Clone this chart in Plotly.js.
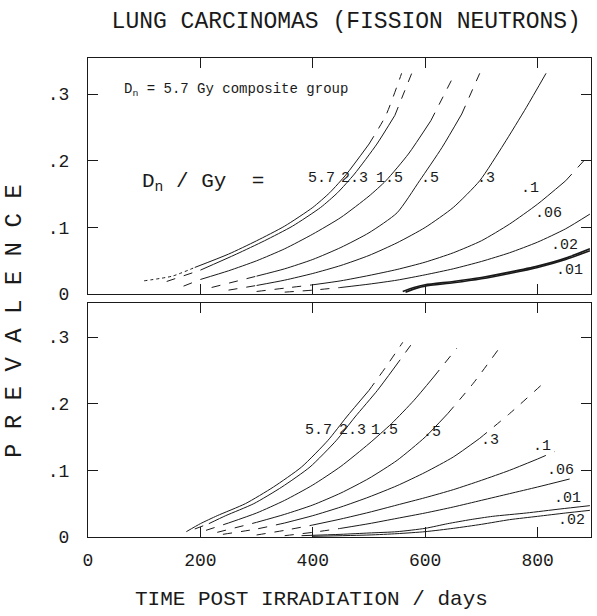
<!DOCTYPE html>
<html>
<head>
<meta charset="utf-8">
<script src="https://cdn.plot.ly/plotly-3.0.1.min.js"></script>
<style>html,body{margin:0;padding:0;background:#fff;}#chart{width:597px;height:616px;}</style>
</head>
<body>
<div id="chart"></div>
<script>
// ---- data: [days, prevalence] ----
const doses = ["5.7", "2.3", "1.5", ".5", ".3", ".1", ".06", ".02", ".01"];

// Upper panel (Dn = 5.7 Gy composite group)
const up57 = [[100,0.02],[150,0.027],[190,0.04],[250,0.06],[300,0.08],[350,0.102],[400,0.13],[430,0.152],[460,0.18],[500,0.225],[530,0.268],[558,0.331]];
const up23 = [[140,0.019],[200,0.036],[264,0.06],[314,0.08],[364,0.102],[414,0.13],[444,0.152],[474,0.18],[514,0.225],[546,0.268],[576,0.331]];
const up15 = [[170,0.012],[200,0.022],[250,0.035],[300,0.05],[350,0.068],[400,0.09],[450,0.115],[500,0.147],[530,0.17],[570,0.21],[610,0.26],[653,0.331]];
const up05 = [[220,0.01],[300,0.027],[350,0.038],[400,0.052],[450,0.07],[500,0.092],[550,0.122],[590,0.17],[630,0.22],[665,0.27],[697,0.331]];
const up03 = [[250,0.006],[300,0.013],[350,0.021],[400,0.031],[450,0.043],[500,0.058],[550,0.077],[600,0.1],[650,0.13],[697,0.17],[740,0.225],[780,0.28],[815,0.331]];
const up01 = [[300,0.004],[350,0.009],[400,0.014],[450,0.02],[500,0.028],[550,0.037],[600,0.048],[650,0.062],[700,0.08],[750,0.105],[800,0.135],[850,0.17],[893,0.21]];
const up006 = [[350,0.003],[400,0.006],[450,0.01],[500,0.015],[550,0.021],[600,0.029],[650,0.038],[700,0.049],[750,0.062],[800,0.078],[850,0.098],[893,0.12]];
const up002 = [[560,0.004],[580,0.01],[600,0.014],[650,0.019],[700,0.025],[750,0.033],[800,0.042],[850,0.054],[893,0.068]];
const up001 = [[565,0.003],[585,0.009],[600,0.012],[650,0.017],[700,0.023],[750,0.031],[800,0.04],[850,0.052],[893,0.065]];

// Lower panel
const lo57 = [[175,0.008],[200,0.02],[230,0.032],[280,0.05],[330,0.075],[380,0.105],[427,0.145],[460,0.18],[500,0.22],[530,0.255],[560,0.292]];
const lo23 = [[190,0.012],[215,0.02],[245,0.032],[295,0.05],[345,0.075],[395,0.105],[442,0.145],[475,0.18],[515,0.22],[546,0.255],[578,0.292]];
const lo15 = [[210,0.01],[250,0.021],[300,0.036],[350,0.055],[400,0.078],[450,0.106],[500,0.14],[540,0.17],[580,0.205],[615,0.24],[656,0.283]];
const lo05 = [[230,0.007],[300,0.022],[350,0.034],[400,0.048],[450,0.066],[500,0.088],[550,0.115],[600,0.15],[640,0.185],[685,0.23],[729,0.28]];
const lo03 = [[240,0.004],[300,0.012],[350,0.021],[400,0.032],[450,0.045],[500,0.06],[550,0.077],[600,0.097],[650,0.12],[697,0.148],[750,0.185],[816,0.235]];
const lo01 = [[300,0.003],[350,0.01],[400,0.018],[450,0.027],[500,0.037],[550,0.048],[600,0.059],[650,0.071],[700,0.085],[750,0.1],[800,0.117],[830,0.128]];
const lo006 = [[350,0.002],[400,0.007],[450,0.013],[500,0.02],[550,0.028],[600,0.036],[650,0.045],[700,0.055],[750,0.065],[800,0.075],[857,0.087]];
const lo002 = [[400,0.001],[500,0.003],[550,0.005],[600,0.008],[650,0.013],[700,0.019],[750,0.026],[800,0.031],[850,0.036],[893,0.04]];
const lo001 = [[380,0.002],[450,0.004],[500,0.006],[550,0.008],[600,0.013],[640,0.02],[680,0.026],[720,0.031],[780,0.036],[840,0.042],[893,0.047]];

const xTicks = [0, 200, 400, 600, 800];
const yTicks = [0, 0.1, 0.2, 0.3];
const yTickText = ["0", ".1", ".2", ".3"];

const titleText = "LUNG CARCINOMAS (FISSION NEUTRONS)";
const xTitle = "TIME POST IRRADIATION / days";
const yTitle = "P R E V A L E N C E";

// ---- drawing ----
const FONT = "Liberation Mono, DejaVu Sans Mono, monospace";
const INK = "#1a1a1a";
const traces = [];

function addCurve(pts, yax, pre, post, preDash, postDash, w) {
  const seg = (f) => pts.filter(f);
  const parts = [
    [seg(p => p[0] <= pre), preDash],
    [seg(p => p[0] >= pre && p[0] <= post), "solid"],
    [seg(p => p[0] >= post), postDash]
  ];
  parts.forEach(([s, d]) => {
    if (s.length < 2) return;
    traces.push({
      x: s.map(p => p[0]), y: s.map(p => p[1]),
      xaxis: yax === "y" ? "x2" : "x", yaxis: yax,
      mode: "lines", line: {color: INK, width: w || 1, dash: d, shape: "spline", smoothing: 0.6},
      hoverinfo: "skip", showlegend: false
    });
  });
}

addCurve(up57, "y", 190, 500, "dot", "dash");
addCurve(up23, "y", 200, 546, "dash", "dash");
addCurve(up15, "y", 200, 610, "dash", "dash");
addCurve(up05, "y", 300, 665, "dash", "dash");
addCurve(up03, "y", 300, 9999, "dash", "dash");
addCurve(up01, "y", 400, 850, "dash", "dash");
addCurve(up006, "y", 450, 9999, "dash", "dash");
addCurve(up002, "y", 0, 9999, "dash", "dash", 1.6);
addCurve(up001, "y", 0, 9999, "dash", "dash", 1.6);

addCurve(lo57, "y2", 175, 500, "dash", "dash");
addCurve(lo23, "y2", 215, 546, "dash", "dash");
addCurve(lo15, "y2", 250, 615, "dash", "dash");
addCurve(lo05, "y2", 300, 640, "dash", "dash");
addCurve(lo03, "y2", 350, 697, "dash", "dash");
addCurve(lo01, "y2", 400, 800, "dash", "dash");
addCurve(lo006, "y2", 450, 9999, "dash", "dash");
addCurve(lo002, "y2", 0, 9999, "dash", "dash");
addCurve(lo001, "y2", 0, 9999, "dash", "dash");

const ann = [];
function lab(text, x, y, yref, size, anchor) {
  ann.push({text: text, x: x, y: y, xref: yref === "y" ? "x2" : "x", yref: yref,
    showarrow: false, xanchor: anchor || "center", yanchor: "middle",
    font: {family: FONT, size: size || 13, color: INK}});
}
// upper panel labels
lab("D<sub>n</sub> = 5.7 Gy composite group", 60, 0.306, "y", 14, "left");
lab("D<sub>n</sub> / Gy  =", 92, 0.168, "y", 21, "left");
const upLab = [[416, 0.174], [474, 0.174], [537, 0.174], [608, 0.174], [709, 0.174], [786, 0.159], [820, 0.121], [848, 0.073], [857, 0.036]];
doses.forEach((d, i) => lab(d, upLab[i][0], upLab[i][1], "y", 15));
// lower panel labels
const loLab = [[411, 0.160], [470, 0.160], [528, 0.160], [612, 0.157], [715, 0.145], [807, 0.135], [841, 0.100], [860, 0.025], [853, 0.058]];
doses.forEach((d, i) => lab(d, loLab[i][0], loLab[i][1], "y2", 15));

// axis titles
ann.push({text: xTitle, xref: "paper", yref: "paper", x: 0.445, y: -0.131, showarrow: false,
  xanchor: "center", yanchor: "middle", font: {family: FONT, size: 21, color: INK}});
ann.push({text: yTitle, xref: "paper", yref: "paper", x: -0.145, y: 0.451, showarrow: false,
  xanchor: "center", yanchor: "middle", textangle: -90, font: {family: FONT, size: 24, color: INK}});

const axCommon = {showline: true, linecolor: INK, linewidth: 1, mirror: "ticks", ticks: "inside",
  ticklen: 10, tickcolor: INK, tickwidth: 1, showgrid: false, zeroline: false,
  tickfont: {family: FONT, size: 18, color: INK}};

const layout = {
  width: 597, height: 616,
  margin: {l: 88, r: 6, t: 58, b: 79},
  paper_bgcolor: "#fff", plot_bgcolor: "#fff",
  title: {text: titleText, xref: "container", yref: "container", x: 0.58, y: 0.967,
    xanchor: "center", yanchor: "middle", font: {family: FONT, size: 23, color: INK}},
  xaxis: Object.assign({}, axCommon, {anchor: "y2", domain: [0, 1], range: [0, 895],
    tickvals: xTicks, ticktext: xTicks.map(String), ticklabelstandoff: 6}),
  xaxis2: Object.assign({}, axCommon, {anchor: "y", domain: [0, 1], range: [0, 895], matches: "x",
    tickvals: xTicks, showticklabels: false}),
  yaxis: Object.assign({}, axCommon, {domain: [0.507, 1], range: [0, 0.354], anchor: "x2",
    tickvals: yTicks, ticktext: yTickText, ticklabelstandoff: 14}),
  yaxis2: Object.assign({}, axCommon, {domain: [0, 0.4885], range: [0, 0.351], anchor: "x",
    tickvals: yTicks, ticktext: yTickText, ticklabelstandoff: 14}),
  annotations: ann,
  showlegend: false
};

Plotly.newPlot("chart", traces, layout, {staticPlot: true, displayModeBar: false});
</script>
</body>
</html>
